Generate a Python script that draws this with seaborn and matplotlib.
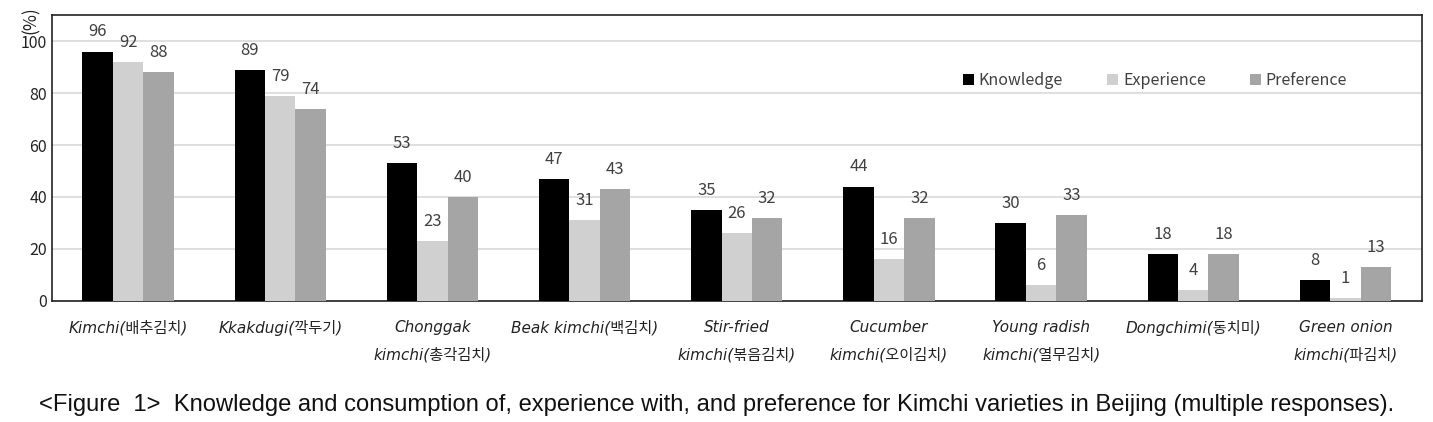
import pandas as pd
import matplotlib.pyplot as plt
import seaborn as sns

categories = ["Kimchi(배추김치)", "Kkakdugi(깍두기)", "Chonggak\nkimchi(총각김치)",
              "Beak kimchi(백김치)", "Stir-fried\nkimchi(볶음김치)", "Cucumber\nkimchi(오이김치)",
              "Young radish\nkimchi(열무김치)", "Dongchimi(동치미)", "Green onion\nkimchi(파김치)"]
knowledge = [96, 89, 53, 47, 35, 44, 30, 18, 8]
experience = [92, 79, 23, 31, 26, 16, 6, 4, 1]
preference = [88, 74, 40, 43, 32, 32, 33, 18, 13]
series = ["Knowledge", "Experience", "Preference"]
colors = ["#000000", "#d0d0d0", "#a5a5a5"]

rows = []
for name, vals in zip(series, [knowledge, experience, preference]):
    for cat, v in zip(categories, vals):
        rows.append({"category": cat, "series": name, "value": v})
df = pd.DataFrame(rows)

sns.set_style("white")
plt.rcParams["font.family"] = ["Noto Sans CJK KR", "DejaVu Sans"]

fig = plt.figure(figsize=(14.33, 4.22), dpi=100)
ax = fig.add_axes([0.0363, 0.287, 0.9557, 0.677])

sns.barplot(data=df, x="category", y="value", hue="series", palette=colors,
            width=0.6, saturation=1, ax=ax, legend=True, zorder=3,
            linewidth=0, edgecolor="none")

ax.set_ylim(0, 110)
ax.set_yticks([0, 20, 40, 60, 80, 100])
ax.yaxis.grid(True, color="#d9d9d9", linewidth=1.2, zorder=0)
ax.set_axisbelow(True)
ax.set_xlabel("")
ax.set_ylabel("")
for s in ax.spines.values():
    s.set_color("#222222")
    s.set_linewidth(1.2)
ax.tick_params(axis="both", length=0, labelsize=11.5, colors="#222222")
ax.tick_params(axis="x", pad=14)

for lbl in ax.get_xticklabels():
    lbl.set_family(["DejaVu Sans", "Noto Sans CJK KR"])
    lbl.set_style("italic")
    lbl.set_fontsize(11)
    lbl.set_linespacing(1.9)
    lbl.set_verticalalignment("top")

for cont in ax.containers:
    ax.bar_label(cont, padding=8, fontsize=12, color="#404040")

ax.text(-0.0155, 0.935, "(%)", transform=ax.transAxes, rotation=90,
        ha="center", va="bottom", fontsize=12.5, color="#222222")

ax.legend(loc="upper right", bbox_to_anchor=(0.956, 0.85), ncol=3, frameon=False,
          fontsize=11.5, handlelength=0.7, handleheight=0.7, columnspacing=2.75,
          handletextpad=0.3, labelcolor="#404040")

fig.text(0.5, 0.04, "<Figure  1>  Knowledge and consumption of, experience with, and preference for Kimchi varieties in Beijing (multiple responses).",
         ha="center", va="center", fontsize=17.1, family="Liberation Sans", color="#111111")

plt.savefig("out.png", dpi=100)
